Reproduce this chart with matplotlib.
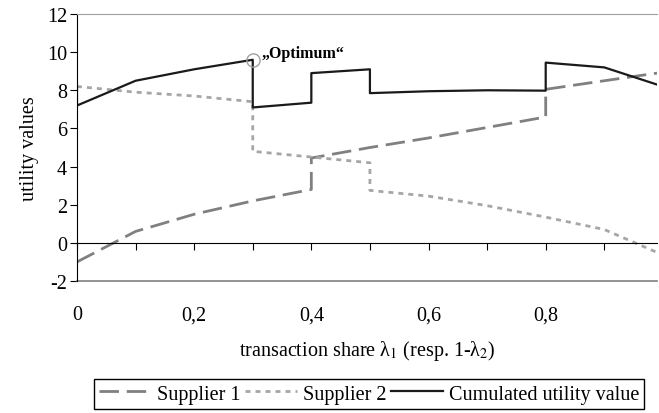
import numpy as np
import matplotlib.pyplot as plt

plt.rcParams['font.family'] = ['Liberation Serif', 'DejaVu Serif']
plt.rcParams['mathtext.fontset'] = 'stix'

# transaction share lambda_1
x_s1 = [0.0, 0.1, 0.2, 0.3, 0.4, 0.4, 0.5, 0.6, 0.7, 0.8, 0.8, 0.9, 0.99]
supplier1 = [-1.0, 0.6, 1.5, 2.2, 2.8, 4.45, 5.0, 5.5, 6.05, 6.6, 8.05, 8.5, 8.9]

x_s2 = [0.0, 0.1, 0.2, 0.3, 0.3, 0.4, 0.5, 0.5, 0.6, 0.7, 0.8, 0.9, 0.99]
supplier2 = [8.2, 7.9, 7.7, 7.4, 4.8, 4.5, 4.2, 2.75, 2.45, 1.95, 1.35, 0.7, -0.5]

x_cum = [0.0, 0.0, 0.1, 0.2, 0.3, 0.3, 0.4, 0.4, 0.5, 0.5, 0.6, 0.7, 0.8, 0.8, 0.9, 0.99]
cumulated = [8.2, 7.2, 8.5, 9.1, 9.6, 7.1, 7.35, 8.9, 9.1, 7.85, 7.95, 8.0, 7.98, 9.45, 9.2, 8.3]

optimum = (0.3, 9.6)

xticks = np.round(np.arange(0, 1.0, 0.1), 1)
xlabels = ['0', '', '0,2', '', '0,4', '', '0,6', '', '0,8', '']
yticks = [-2, 0, 2, 4, 6, 8, 10, 12]

fs = 14.5

fig = plt.figure(figsize=(6.59, 4.14), dpi=100)
ax = fig.add_axes([0.1168, 0.3188, 0.8802, 0.645])

l1, = ax.plot(x_s1, supplier1, color='#808080', lw=2.0, dashes=(7, 2.8), label='Supplier 1')
l2, = ax.plot(x_s2, supplier2, color='#a6a6a6', lw=2.0, dashes=(1.8, 1.8), label='Supplier 2')
l3, = ax.plot(x_cum, cumulated, color='#1a1a1a', lw=1.6, label='Cumulated utility value')

ax.plot(*optimum, 'o', ms=9.5, mfc='none', mec='#a0a0a0', mew=1.0)
ax.annotate('\u201eOptimum\u201c', xy=optimum, xytext=(6, 2), textcoords='offset points',
            fontsize=11.5, fontweight='bold', va='baseline', ha='left')

ax.set_xlim(0, 0.99)
ax.set_ylim(-2, 12)
ax.set_yticks(yticks)
ax.set_yticklabels([str(v) for v in yticks])
ax.set_xticks(xticks)
ax.set_xticklabels(xlabels)

ax.spines['right'].set_visible(False)
ax.spines['top'].set_color('#a0a0a0')
ax.spines['left'].set_color('black')
ax.spines['bottom'].set_position(('data', 0))
ax.spines['bottom'].set_color('black')
ax.axhline(-2, color='#808080', lw=1.2, clip_on=False)

ax.tick_params(axis='y', direction='out', length=5, labelsize=fs, pad=2)
ax.tick_params(axis='x', direction='out', length=5, labelsize=fs, pad=40)

ax.set_ylabel('utility values', fontsize=fs, labelpad=6)
ax.set_xlabel('transaction share \u03bb$_1$ (resp. 1-\u03bb$_2$)', fontsize=fs, labelpad=10)

fig.legend(handles=[l1, l2, l3], loc='center', bbox_to_anchor=(0.56, 0.046), ncol=3,
           fontsize=fs, frameon=True, fancybox=False, edgecolor='black', framealpha=1,
           handlelength=2.6, handletextpad=0.3, columnspacing=0.2, borderpad=0.25,
           borderaxespad=0)

fig.savefig('out.png', dpi=100)
